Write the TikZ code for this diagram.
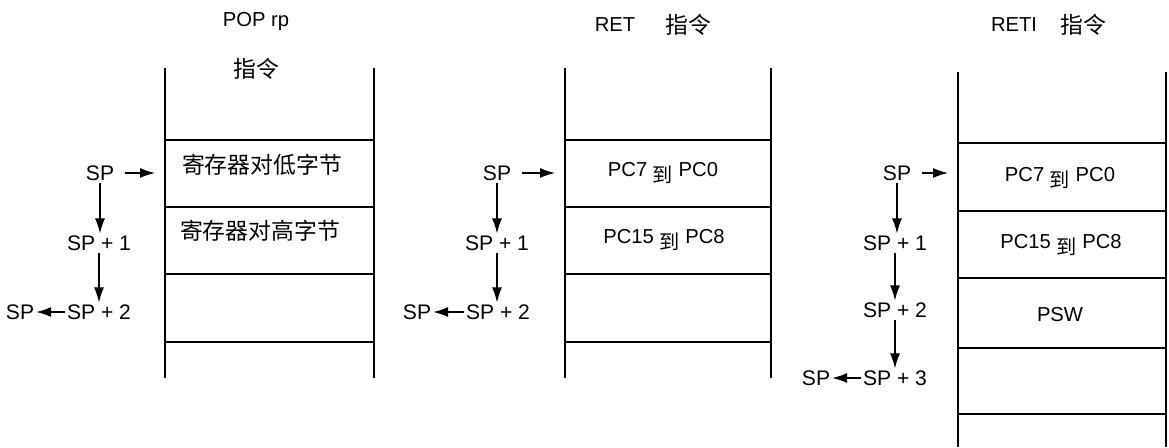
\documentclass[tikz,border=0pt]{standalone}
\usepackage{fontspec}
\setmainfont{Liberation Sans}
\newfontfamily\cjk{Noto Sans CJK SC}
\usetikzlibrary{arrows.meta,positioning}

\begin{document}
\begin{tikzpicture}[x=0.02cm, y=-0.02cm, >={Latex[length=3mm,width=2mm]},
    lbl/.style={font=\fontsize{12}{14}\selectfont, inner sep=1pt},
    cell/.style={font=\cjk\fontsize{13}{15}\selectfont, inner sep=0pt},
    pc/.style={font=\fontsize{11.5}{13}\selectfont, inner sep=0pt},
    ttl/.style={font=\fontsize{11.5}{13}\selectfont, inner sep=0pt},
    wall/.style={line width=1pt},
    ptr/.style={->, line width=0.8pt}]
  \useasboundingbox (0,0) rectangle (1169,447);

  % POP rp
  \node[ttl] (t1) at (256,22) {POP rp};
  \node[cell, below=15pt of t1] (t1b) {指令};
  \draw[wall] (165,68) -- (165,378);
  \draw[wall] (374,68) -- (374,378);
  \foreach \y in {140,207,274,342} {
    \draw[wall] (165,\y) -- (374,\y);
  }
  \node[cell] (c11) at (262,165) {寄存器对低字节};
  \node[cell] (c12) at (260,231) {寄存器对高字节};
  \node[lbl] (a0) at (100,173) {SP};
  \node[lbl] (a1) at (99,243) {SP + 1};
  \node[lbl] (a2) at (99,312) {SP + 2};
  \node[lbl] (a3) at (20,312) {SP};
  \coordinate (a0e) at (155,173);
  \draw[ptr, shorten <=5pt] (a0) -- (a0e);
  \draw[ptr] (a0.south) -- (a0.south |- a1.north);
  \draw[ptr] (a1.north |- a1.south) -- (a1.north |- a2.north);
  \draw[ptr] (a2) -- (a3);

  % RET
  \node[ttl] (t2) at (615,25) {RET};
  \node[cell, right=17pt of t2] (t2b) {指令};
  \draw[wall] (565,68) -- (565,378);
  \draw[wall] (771,68) -- (771,378);
  \foreach \y in {140,207,274,342} {
    \draw[wall] (565,\y) -- (771,\y);
  }
  \node[pc] (c21) at (663,173) {PC7 \raisebox{-3pt}{\cjk 到} PC0};
  \node[pc] (c22) at (664,240) {PC15 \raisebox{-3pt}{\cjk 到} PC8};
  \node[lbl] (b0) at (497,173) {SP};
  \node[lbl] (b1) at (497,243) {SP + 1};
  \node[lbl] (b2) at (498,312) {SP + 2};
  \node[lbl] (b3) at (417,312) {SP};
  \coordinate (b0e) at (555,173);
  \draw[ptr, shorten <=5pt] (b0) -- (b0e);
  \draw[ptr] (b0.south) -- (b0.south |- b1.north);
  \draw[ptr] (b1.north |- b1.south) -- (b1.north |- b2.north);
  \draw[ptr] (b2) -- (b3);

  % RETI
  \node[ttl] (t3) at (1014,25) {RETI};
  \node[cell, right=13pt of t3] (t3b) {指令};
  \draw[wall] (958,72) -- (958,447);
  \draw[wall] (1166,72) -- (1166,447);
  \foreach \y in {143,211,278,348,414} {
    \draw[wall] (958,\y) -- (1166,\y);
  }
  \node[pc] (c31) at (1060,178) {PC7 \raisebox{-3pt}{\cjk 到} PC0};
  \node[pc] (c32) at (1061,245) {PC15 \raisebox{-3pt}{\cjk 到} PC8};
  \node[pc] (c33) at (1060,315) {PSW};
  \node[lbl] (d0) at (897,173) {SP};
  \node[lbl] (d1) at (895,243) {SP + 1};
  \node[lbl] (d2) at (895,310) {SP + 2};
  \node[lbl] (d3) at (895,378) {SP + 3};
  \node[lbl] (d4) at (816,378) {SP};
  \coordinate (d0e) at (948,173);
  \draw[ptr, shorten <=5pt] (d0) -- (d0e);
  \draw[ptr] (d0.south) -- (d0.south |- d1.north);
  \draw[ptr] (d1.north |- d1.south) -- (d1.north |- d2.north);
  \draw[ptr] (d2.north |- d2.south) -- (d2.north |- d3.north);
  \draw[ptr] (d3) -- (d4);
\end{tikzpicture}
\end{document}
